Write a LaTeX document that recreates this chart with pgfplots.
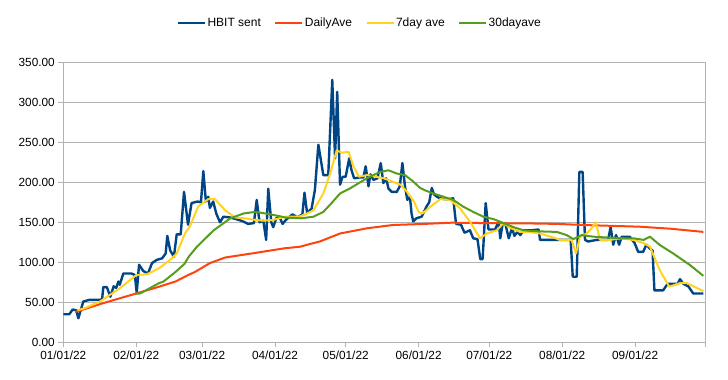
\documentclass[border=0pt]{standalone}
\usepackage{fontspec}
\setmainfont{Liberation Sans}
\usepackage{pgfplots}
\pgfplotsset{compat=1.18}
\definecolor{cBlue}{HTML}{004586}
\definecolor{cOrange}{HTML}{FF420E}
\definecolor{cYellow}{HTML}{FFD320}
\definecolor{cGreen}{HTML}{579D1C}
\definecolor{cGrid}{HTML}{B3B3B3}
\begin{document}
\begin{tikzpicture}
\useasboundingbox (-63.3pt,-37.7pt) rectangle (664.7pt,342.3pt);
\begin{axis}[
  scale only axis, width=642.4pt, height=280pt,
  xmin=0, xmax=273, ymin=0, ymax=350,
  xtick={0,31,59,90,120,151,181,212,243,273},
  xticklabels={01/01/22,02/01/22,03/01/22,04/01/22,05/01/22,06/01/22,07/01/22,08/01/22,09/01/22,{}},
  ytick={0,50,...,350},
  yticklabel style={/pgf/number format/.cd, fixed, fixed zerofill, precision=2, assume math mode=true},
  ymajorgrids, grid style={cGrid, line width=0.8pt},
  axis line style={cGrid, line width=0.8pt},
  tick style={cGrid, line width=0.8pt},
  tick align=outside, major tick length=5pt,
  xtick pos=bottom, ytick pos=left,
  ticklabel style={font=\fontsize{11.8}{13}\selectfont, text=black},
  legend style={at={(0.461,1.14)}, anchor=center, draw=none, legend columns=-1,
    font=\fontsize{12}{13}\selectfont,
    nodes={inner sep=1.5pt},
    /tikz/every even column/.append style={column sep=12pt}},
  legend image code/.code={\draw[#1] (0pt,0pt) -- (27pt,0pt);},
  every axis plot/.append style={line join=round, no marks},
]
\addplot[cBlue, line width=2.4pt] coordinates {
(0,35) (2.5,35) (4,41) (5.5,40) (6.4,30) (7.3,39) (8.5,51) (11,53) (15.5,53) (16.5,54) (17,69) (18.5,69) (20,57) (21.4,70) (22.5,68) (23.4,76) (24,72) (25.5,86) (29,86) (30.4,84) (31.2,62) (32.2,97) (34,89) (36,86) (37.7,99) (39.7,103) (42,105) (43.5,111) (44.2,133) (45.4,115) (47,107) (48.2,135) (49.9,135) (51.3,188) (53,147) (54.5,174) (57,176) (58.5,175) (59.5,214) (60.6,176) (61.6,182) (62.3,168) (63.7,176) (65,161) (66.6,150) (68,157) (71,156) (74.5,153) (76.5,151) (78.5,148) (81,149) (82.2,178) (83.4,150) (85,152) (86.2,128) (87.1,192) (88.4,150) (89.2,144) (90.5,155) (91.8,157) (93.2,148) (94.6,153) (97.4,160) (99.5,156) (101.6,160) (102.5,187) (103.6,162) (105.5,167) (106.9,190) (108.4,247) (110.5,209) (112.6,209) (114.3,328) (115.5,230) (116.4,313) (117.6,197) (118.7,207) (120,207) (121.5,230) (122.5,215) (123.6,205) (125.8,206) (127.5,206) (128.5,220) (129.7,195) (130.5,210) (131.8,203) (133.5,205) (134.9,224) (136,199) (137.2,205) (138.2,192) (139.6,188) (141.7,188) (143,195) (144.1,224) (145.2,195) (146.2,178) (147.3,182) (148,161) (148.7,151) (150,155) (152.3,157) (154.4,170) (155.5,175) (156.6,193) (157.5,185) (158.8,182) (160,180) (162,179) (164,179) (165.7,180) (166.9,148) (169,147) (170.5,137) (172.8,140) (174.2,130) (176,129) (177.2,104) (178.2,104) (179.5,174) (180.7,141) (183.5,141) (185,151) (185.7,130) (186.7,148) (187.8,149) (189.3,130) (190.7,143) (191.7,133) (193,138) (194.2,134) (195.6,140) (199,140) (202,141) (202.6,128) (206,128) (210,128) (213.9,128) (215.6,128) (216.5,82) (218.2,82) (219.3,213) (220.7,213) (221.7,128) (223,126) (226.7,128) (229,128) (231.5,128) (232.6,144) (233.7,122) (234.9,134) (236.2,122) (237.3,132) (240.7,132) (242.8,124) (244.3,113) (246.4,113) (247.8,122) (249.3,117) (250.4,115) (251.2,65) (253.5,65) (254.9,65) (256.8,73) (259.2,73) (261,73) (262.1,79) (263.5,73) (265.6,70) (267.7,61) (272,61)
};
\addlegendentry{HBIT sent}
\addplot[cOrange, line width=2pt] coordinates {
(5,38) (8.5,41) (17,49) (31,61) (40.7,69.5) (47.7,76) (53,84) (56,88) (62.3,99) (68.8,106) (80,111) (94,117.5) (100.6,119.5) (105,123) (109,126) (117.6,136) (129,142.5) (140,146.6) (153.5,148) (165,149.5) (180,149) (200,148.5) (210,148) (221,146.6) (245,144.5) (258,142) (272,138)
};
\addlegendentry{DailyAve}
\addplot[cYellow, line width=2pt] coordinates {
(6,40) (9,42.5) (15.6,51) (24,67.5) (31,84) (35.5,85) (40.7,92.5) (45.4,103) (48.2,111) (51.7,136) (53.8,145) (57.3,169.5) (61.6,179) (64.4,179) (68.8,165) (73,156) (77.2,155) (81.5,153) (85,152) (89.2,153) (94.3,157) (100,157) (103,160) (106.3,165) (110.5,186) (113.4,211) (116.2,240) (118.3,237) (121.2,238) (123.4,219.5) (125.6,207) (129.2,209) (132.7,207) (136.2,205) (139.8,201) (143.3,197) (146.1,188) (149,176) (151,163) (152.6,161) (156,169.5) (160.2,179) (164.4,178) (168.6,167.5) (172.8,151) (177.1,130) (180,136) (184.2,140) (187.1,149) (189.9,143) (194.2,138) (198,138) (202.6,136) (208.3,131) (211,128) (216,128) (217.9,111) (219.6,132) (222.4,136) (224.5,142.5) (226.3,150) (228.1,128) (232.4,128) (236.6,130) (242.3,128) (246.6,124) (249.3,119.5) (253.5,90) (257.5,69.5) (262.1,74) (265,74) (272,64)
};
\addlegendentry{7day ave}
\addplot[cGreen, line width=2pt] coordinates {
(31,61) (32.6,61) (40.7,74) (42.6,76) (47.7,88) (51.5,98) (53.3,107) (56.8,119.5) (63.9,140) (71,155) (76.6,161) (81.5,163) (86,161) (91.4,158) (94.3,156) (101,155) (106.3,157) (110.5,163) (114,174) (117.6,186) (121.9,192.5) (129,205) (134.6,213) (138.2,215) (141.7,211) (145.2,209) (148.7,201) (151.6,193) (153.7,190) (157.3,186) (161.5,182) (165.7,178) (170,169.5) (174.2,163) (178.5,157) (182.8,154) (187.1,149) (191.3,144) (195.6,140) (199.8,139) (204,138.5) (209.7,138) (213.9,134) (216.8,129) (220.3,134) (225.3,132) (231,131) (236.6,130) (242.3,130) (246.6,128) (249.3,132) (253.5,121.6) (259.2,111) (266.3,96.6) (272,83)
};
\addlegendentry{30dayave}
\end{axis}
\end{tikzpicture}
\end{document}
